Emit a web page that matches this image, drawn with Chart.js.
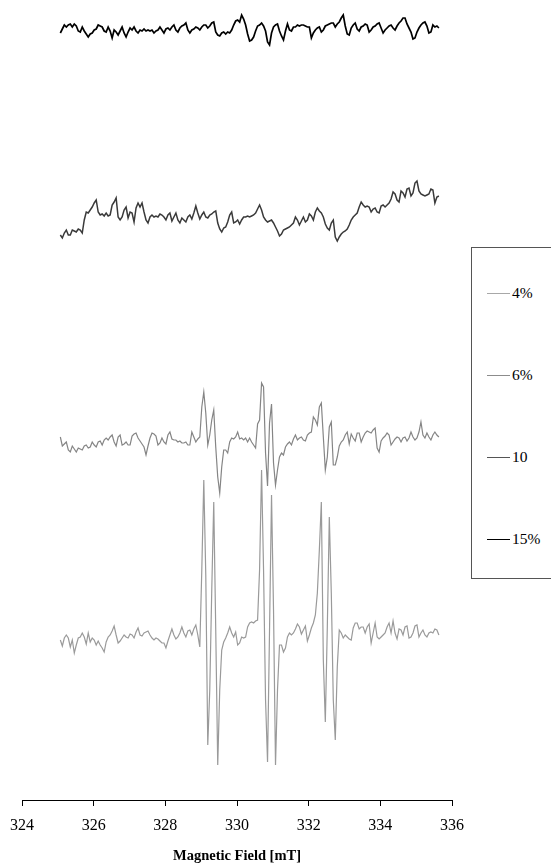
<!DOCTYPE html>
<html>
<head>
<meta charset="utf-8">
<script src="https://cdn.jsdelivr.net/npm/chart.js@4.4.1/dist/chart.umd.min.js"></script>
<style>
    body { margin: 0; background: #fff; }
    #wrap { position: relative; width: 551px; height: 863px; }
    #legend {
        position: absolute; left: 471px; top: 247px; width: 120px; height: 332px;
        border: 1px solid #555; box-sizing: border-box; background: #fff;
    }
    .legend-item {
        position: absolute; left: 15px; height: 20px;
        display: flex; align-items: center;
        font-family: 'Liberation Serif', 'Times New Roman', serif; font-size: 15.5px; color: #000;
    }
    .legend-line { width: 23px; height: 0; margin-right: 2px; }
</style>
</head>
<body>
<div id="wrap">
    <canvas id="epr-chart" width="551" height="863"></canvas>
    <div id="legend"></div>
</div>
<script>
// Field axis (mT)
const fieldTicks = [324, 326, 328, 330, 332, 334, 336];
const fieldStart = 325.07;   // first sample
const fieldStep = 0.0556;    // spacing between samples

// Series names, in legend order
const seriesNames = ['4%', '6%', '10', '15%'];

// Spectra (arbitrary units, stacked as in the original plot)
const intensity4 = [
    160,154,162,165,162,153,160,147,155,162,
    163,167,163,156,167,158,162,160,155,159,
    155,152,148,158,163,165,169,174,165,157,
    159,162,165,163,162,166,165,162,168,172,
    165,164,167,168,169,165,162,160,162,161,
    159,157,157,152,159,165,171,165,161,163,
    167,173,167,163,169,170,165,171,175,165,
    153,230,320,225,55,110,210,298,170,35,
    110,150,158,162,167,173,167,163,168,155,
    157,163,162,163,173,177,178,177,179,180,
    230,330,230,100,38,170,305,190,35,110,
    155,155,148,152,163,167,165,167,171,176,
    173,166,170,174,159,165,172,177,185,207,
    250,298,140,78,173,283,207,100,60,133,
    170,167,162,165,163,161,160,172,177,177,
    171,173,173,167,173,176,157,167,177,163,
    161,163,165,167,173,177,167,179,167,161,
    171,170,165,173,174,162,163,167,174,175,
    163,167,170,165,163,167,168,167,171,170,
    165
];
const intensity6 = [
    363,354,356,358,350,348,354,351,348,352,
    351,350,354,355,352,353,358,355,353,358,
    359,355,360,362,360,363,365,358,354,363,
    365,355,356,358,355,355,364,366,367,362,
    359,356,353,345,354,362,367,366,364,355,
    357,362,358,356,365,368,361,360,360,358,
    359,357,357,358,355,355,368,363,358,361,
    363,393,408,387,355,365,380,390,353,323,
    307,333,350,350,347,358,362,361,363,368,
    361,362,360,362,358,362,358,355,352,376,
    380,417,413,347,314,377,396,337,315,330,
    343,347,345,353,356,358,355,361,365,360,
    362,363,360,359,365,367,368,383,380,375,
    393,397,363,330,343,373,378,335,335,343,
    354,358,360,365,368,356,366,362,359,367,
    367,358,363,367,369,368,367,370,372,352,
    348,359,362,364,367,365,355,358,361,363,
    362,358,362,363,359,362,368,363,360,362,
    368,378,365,362,367,363,360,365,368,365,
    363
];
const intensity10 = [
    565,562,567,570,565,565,570,569,568,571,
    570,567,580,588,587,590,593,597,600,588,
    585,586,584,587,584,585,595,598,602,583,
    580,583,590,593,582,588,587,578,592,597,
    593,597,588,580,577,583,585,583,584,583,
    586,585,583,580,585,587,579,583,587,580,
    577,582,580,578,583,585,581,587,594,587,
    581,585,588,583,582,585,586,588,589,577,
    571,568,572,573,578,585,588,577,578,580,
    576,580,583,583,584,583,584,585,587,591,
    595,590,583,580,578,579,580,577,573,569,
    564,566,570,571,572,573,575,577,583,580,
    575,579,583,578,580,586,584,580,588,592,
    589,587,583,576,572,570,577,580,563,559,
    563,566,568,569,571,575,580,583,585,587,
    593,598,595,593,594,593,588,591,592,588,
    587,594,595,593,595,597,601,608,606,600,
    598,609,607,603,611,612,604,607,617,619,
    609,606,605,604,605,606,611,610,597,603,
    604
];
const intensity15 = [
    767,771,775,773,775,776,773,776,774,769,
    768,773,769,766,763,766,767,770,771,775,
    774,773,769,768,773,769,762,770,768,765,
    769,773,767,763,768,772,770,773,769,767,
    770,769,771,769,770,769,770,767,769,770,
    773,770,767,771,772,770,773,775,770,768,
    772,774,775,777,770,767,770,771,773,772,
    770,773,775,775,772,774,777,778,768,765,
    764,767,768,766,768,767,770,775,779,780,
    778,785,781,775,766,759,760,763,769,774,
    775,777,774,769,758,755,767,773,775,776,
    769,764,760,769,776,770,769,773,773,775,
    774,775,775,774,773,773,762,767,770,772,
    773,768,770,774,775,776,777,777,773,776,
    778,782,785,774,766,765,772,775,777,771,
    769,773,774,776,775,768,770,773,774,776,
    777,772,767,770,772,774,775,772,770,774,
    777,779,782,782,776,772,768,761,762,768,
    772,775,777,778,774,767,768,775,773,774,
    772
];

const seriesValues = [intensity4, intensity6, intensity10, intensity15];
const seriesColors = ['#9a9a9a', '#858585', '#3a3a3a', '#000000'];
const seriesWidths = [1.2, 1.2, 1.5, 1.7];
const legendColors = ['#a8a8a8', '#8c8c8c', '#555555', '#000000'];

function toPoints(values) {
    return values.map((v, i) => ({ x: fieldStart + i * fieldStep, y: v }));
}

const serif = "'Liberation Serif', 'Times New Roman', serif";

const ctx = document.getElementById('epr-chart');
new Chart(ctx, {
    type: 'line',
    data: {
        datasets: seriesNames.map((name, i) => ({
            label: name,
            data: toPoints(seriesValues[i]),
            borderColor: seriesColors[i],
            borderWidth: seriesWidths[i],
            pointRadius: 0,
            tension: 0,
            fill: false
        }))
    },
    options: {
        responsive: false,
        animation: false,
        layout: { padding: { left: 21, right: 99, top: 0, bottom: 0 } },
        plugins: {
            legend: { display: false },
            tooltip: { enabled: false }
        },
        scales: {
            x: {
                type: 'linear',
                min: fieldTicks[0],
                max: fieldTicks[fieldTicks.length - 1],
                afterBuildTicks: (scale) => {
                    scale.ticks = fieldTicks.map(v => ({ value: v }));
                },
                afterFit: (scale) => { scale.height = 63; },
                ticks: {
                    color: '#000',
                    padding: 10,
                    maxRotation: 0,
                    font: { family: serif, size: 16 }
                },
                grid: {
                    drawOnChartArea: false,
                    drawTicks: true,
                    tickLength: 6,
                    color: '#000'
                },
                border: { display: true, color: '#000', width: 1 },
                title: {
                    display: true,
                    text: 'Magnetic Field [mT]',
                    color: '#000',
                    padding: { top: 0, bottom: 0 },
                    font: { family: serif, size: 14.5, weight: 'bold', lineHeight: 1 }
                }
            },
            y: { display: false, min: 0, max: 800 }
        }
    }
});

// Legend box on the right
const legend = document.getElementById('legend');
seriesNames.forEach((name, i) => {
    const item = document.createElement('div');
    item.className = 'legend-item';
    item.style.top = (35 + i * 82) + 'px';
    item.innerHTML = `<span class="legend-line" style="border-top: ${seriesWidths[i]}px solid ${legendColors[i]};"></span>${name}`;
    legend.appendChild(item);
});
</script>
</body>
</html>
